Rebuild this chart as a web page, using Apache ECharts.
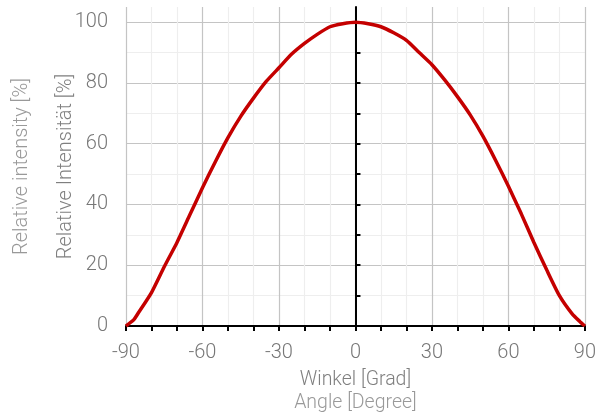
<!DOCTYPE html>
<html>
<head>
<meta charset="utf-8">
<script src="https://cdn.jsdelivr.net/npm/echarts@6/dist/echarts.min.js"></script>
<style>html,body{margin:0;padding:0;background:#fff}#c{width:599px;height:418px}</style>
</head>
<body>
<div id="c"></div>
<script>
const angles = [-90, -87, -85, -80, -75, -70, -65, -60, -55, -50, -45, -40, -35, -30, -25, -20, -15, -10, -5, 0, 5, 10, 15, 20, 25, 30, 35, 40, 45, 50, 55, 60, 65, 70, 75, 80, 85, 88, 90];
const intensity = [0, 2, 4.5, 11, 19.5, 27.5, 36.5, 45.5, 54, 62, 69, 75, 80.5, 85, 89.5, 93, 96, 98.5, 99.5, 100, 99.5, 98.5, 96.5, 94, 90, 86, 81, 75.5, 69.5, 62.5, 54.5, 46, 37, 27.5, 18.5, 10, 4, 1.5, 0];
const yTicks = [0, 10, 20, 30, 40, 50, 60, 70, 80, 90, 100];

const font = 'Roboto';
const chart = echarts.init(document.getElementById('c'));
chart.setOption({
  animation: false,
  grid: { left: 126, right: 9, top: 7, bottom: 92 },
  xAxis: [{
    type: 'value', min: -90, max: 90, interval: 10,
    name: 'Winkel [Grad]', nameLocation: 'middle', nameGap: 44, nameMoveOverlap: false,
    nameTextStyle: { color: '#7f7f7f', fontSize: 19.5, fontFamily: font, fontWeight: 300 },
    axisLine: { onZero: true, lineStyle: { color: '#000', width: 2 } },
    axisTick: { show: true, length: 5, lineStyle: { color: '#000', width: 2 } },
    axisLabel: { margin: 17, color: '#777', fontSize: 20, fontFamily: font, fontWeight: 300,
      formatter: v => (v % 30 === 0 ? String(v) : '') },
    splitLine: { show: true, lineStyle: { color: ['#c4c4c4', '#eeeeee', '#eeeeee'], width: 1.2 } }
  }, {
    type: 'value', min: -90, max: 90, position: 'bottom',
    name: 'Angle [Degree]', nameLocation: 'middle', nameGap: 67, nameMoveOverlap: false,
    nameTextStyle: { color: '#999', fontSize: 19.5, fontFamily: font, fontWeight: 300 },
    axisLine: { show: false }, axisTick: { show: false }, axisLabel: { show: false }, splitLine: { show: false }
  }],
  yAxis: [{
    type: 'value', min: 0, max: 105, interval: 10, position: 'left',
    name: 'Relative Intensität [%]', nameLocation: 'middle', nameGap: 50, nameMoveOverlap: false,
    nameTextStyle: { color: '#7f7f7f', fontSize: 20, fontFamily: font, fontWeight: 300 },
    axisLine: { show: false }, axisTick: { show: false },
    axisLabel: { margin: 18, color: '#777', fontSize: 20, fontFamily: font, fontWeight: 300,
      formatter: v => (v % 20 === 0 ? String(v) : '') },
    splitLine: { show: true, showMaxLine: false, lineStyle: { color: ['#c4c4c4', '#eeeeee'], width: 1.2 } }
  }, {
    type: 'value', min: 0, max: 105, interval: 10,
    axisLine: { show: true, onZero: true, onZeroAxisIndex: 0, lineStyle: { color: '#000', width: 2 } },
    axisTick: { show: true, length: 5, customValues: yTicks, lineStyle: { color: '#000', width: 2 } },
    axisLabel: { show: false }, splitLine: { show: false }
  }, {
    type: 'value', min: 0, max: 105, position: 'left',
    name: 'Relative intensity [%]', nameLocation: 'middle', nameGap: 94, nameMoveOverlap: false,
    nameTextStyle: { color: '#999', fontSize: 20, fontFamily: font, fontWeight: 300 },
    axisLine: { show: false }, axisTick: { show: false }, axisLabel: { show: false }, splitLine: { show: false }
  }],
  series: [{
    type: 'line', xAxisIndex: 0, yAxisIndex: 0,
    data: angles.map((a, i) => [a, intensity[i]]),
    showSymbol: false, smooth: 0.2,
    lineStyle: { color: '#c40000', width: 3.5 }
  }]
});
</script>
</body>
</html>
